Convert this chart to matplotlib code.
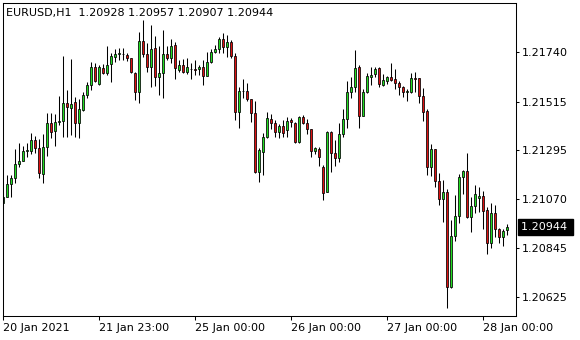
import numpy as np
import matplotlib
matplotlib.use("Agg")
import matplotlib.pyplot as plt

symbol = "EURUSD,H1"

# hourly bars (oldest first)
opens = [1.21053, 1.21081, 1.21138, 1.21165, 1.21229, 1.21245, 1.21290, 1.21290, 1.21340, 1.21303,
         1.21185, 1.21309, 1.21416, 1.21382, 1.21421, 1.21427, 1.21507, 1.21487, 1.21512, 1.21416,
         1.21477, 1.21544, 1.21590, 1.21674, 1.21595, 1.21667, 1.21647, 1.21685, 1.21720, 1.21731,
         1.21733, 1.21728, 1.21713, 1.21644, 1.21558, 1.21790, 1.21731, 1.21674, 1.21758, 1.21629,
         1.21647, 1.21732, 1.21713, 1.21773, 1.21659, 1.21682, 1.21652, 1.21662, 1.21662, 1.21662,
         1.21672, 1.21633, 1.21694, 1.21743, 1.21754, 1.21799, 1.21763, 1.21786, 1.21723, 1.21469,
         1.21564, 1.21564, 1.21526, 1.21462, 1.21195, 1.21287, 1.21355, 1.21436, 1.21419, 1.21378,
         1.21405, 1.21386, 1.21431, 1.21419, 1.21332, 1.21444, 1.21416, 1.21389, 1.21291, 1.21299,
         1.21218, 1.21104, 1.21375, 1.21279, 1.21256, 1.21366, 1.21434, 1.21560, 1.21580, 1.21672,
         1.21451, 1.21560, 1.21629, 1.21640, 1.21667, 1.21591, 1.21610, 1.21626, 1.21617, 1.21601,
         1.21580, 1.21560, 1.21560, 1.21621, 1.21621, 1.21542, 1.21472, 1.21215, 1.21299, 1.21154,
         1.21069, 1.21101, 1.20671, 1.20902, 1.20993, 1.21170, 1.21199, 1.20990, 1.21040, 1.21077,
         1.21084, 1.21021, 1.20869, 1.21006, 1.20933, 1.20899, 1.20928]
highs = [1.21098, 1.21180, 1.21180, 1.21299, 1.21326, 1.21313, 1.21326, 1.21370, 1.21358, 1.21345,
         1.21367, 1.21462, 1.21463, 1.21459, 1.21541, 1.21723, 1.21568, 1.21708, 1.21535, 1.21526,
         1.21560, 1.21606, 1.21694, 1.21693, 1.21682, 1.21685, 1.21769, 1.21738, 1.21754, 1.21758,
         1.21758, 1.21738, 1.21713, 1.21652, 1.21834, 1.21887, 1.21784, 1.21865, 1.21814, 1.21769,
         1.21842, 1.21769, 1.21799, 1.21788, 1.21705, 1.21708, 1.21713, 1.21690, 1.21705, 1.21682,
         1.21705, 1.21743, 1.21754, 1.21773, 1.21808, 1.21829, 1.21819, 1.21796, 1.21735, 1.21583,
         1.21617, 1.21599, 1.21527, 1.21518, 1.21302, 1.21370, 1.21469, 1.21459, 1.21431, 1.21413,
         1.21431, 1.21446, 1.21439, 1.21423, 1.21449, 1.21454, 1.21434, 1.21390, 1.21309, 1.21307,
         1.21226, 1.21382, 1.21382, 1.21340, 1.21416, 1.21480, 1.21609, 1.21629, 1.21751, 1.21682,
         1.21571, 1.21644, 1.21674, 1.21674, 1.21672, 1.21641, 1.21632, 1.21690, 1.21662, 1.21610,
         1.21586, 1.21571, 1.21644, 1.21652, 1.21624, 1.21576, 1.21480, 1.21322, 1.21299, 1.21188,
         1.21157, 1.21115, 1.20975, 1.21089, 1.21185, 1.21203, 1.21282, 1.21081, 1.21135, 1.21127,
         1.21107, 1.21036, 1.21054, 1.21043, 1.20940, 1.20933, 1.20957]
lows = [1.21025, 1.21080, 1.21080, 1.21144, 1.21218, 1.21244, 1.21262, 1.21276, 1.21281, 1.21168,
        1.21142, 1.21268, 1.21349, 1.21313, 1.21408, 1.21355, 1.21355, 1.21363, 1.21352, 1.21348,
        1.21472, 1.21530, 1.21568, 1.21606, 1.21591, 1.21641, 1.21636, 1.21606, 1.21697, 1.21705,
        1.21705, 1.21702, 1.21644, 1.21522, 1.21507, 1.21720, 1.21652, 1.21583, 1.21586, 1.21545,
        1.21530, 1.21705, 1.21690, 1.21617, 1.21649, 1.21647, 1.21641, 1.21617, 1.21636, 1.21636,
        1.21591, 1.21632, 1.21690, 1.21738, 1.21735, 1.21735, 1.21720, 1.21715, 1.21431, 1.21393,
        1.21530, 1.21519, 1.21423, 1.21188, 1.21150, 1.21180, 1.21350, 1.21389, 1.21355, 1.21350,
        1.21355, 1.21355, 1.21401, 1.21325, 1.21325, 1.21413, 1.21367, 1.21264, 1.21276, 1.21223,
        1.21066, 1.21101, 1.21195, 1.21223, 1.21241, 1.21352, 1.21396, 1.21530, 1.21560, 1.21393,
        1.21449, 1.21553, 1.21591, 1.21629, 1.21583, 1.21588, 1.21594, 1.21610, 1.21573, 1.21545,
        1.21538, 1.21519, 1.21553, 1.21560, 1.21507, 1.21428, 1.21180, 1.21177, 1.21127, 1.21043,
        1.20967, 1.20575, 1.20666, 1.20881, 1.20963, 1.21094, 1.20983, 1.20922, 1.21008, 1.21013,
        1.20934, 1.20819, 1.20849, 1.20896, 1.20869, 1.20858, 1.20907]
closes = [1.21078, 1.21138, 1.21165, 1.21230, 1.21244, 1.21290, 1.21292, 1.21340, 1.21301, 1.21188,
          1.21307, 1.21416, 1.21378, 1.21423, 1.21427, 1.21507, 1.21492, 1.21503, 1.21416, 1.21480,
          1.21545, 1.21591, 1.21674, 1.21610, 1.21672, 1.21647, 1.21682, 1.21723, 1.21732, 1.21735,
          1.21730, 1.21713, 1.21649, 1.21558, 1.21790, 1.21731, 1.21672, 1.21754, 1.21629, 1.21644,
          1.21732, 1.21713, 1.21769, 1.21667, 1.21682, 1.21652, 1.21672, 1.21664, 1.21661, 1.21672,
          1.21632, 1.21694, 1.21740, 1.21754, 1.21799, 1.21763, 1.21786, 1.21725, 1.21469, 1.21564,
          1.21562, 1.21526, 1.21462, 1.21195, 1.21294, 1.21355, 1.21439, 1.21419, 1.21375, 1.21405,
          1.21370, 1.21427, 1.21421, 1.21332, 1.21446, 1.21416, 1.21389, 1.21291, 1.21303, 1.21261,
          1.21100, 1.21375, 1.21279, 1.21256, 1.21366, 1.21434, 1.21558, 1.21583, 1.21667, 1.21451,
          1.21560, 1.21632, 1.21636, 1.21662, 1.21594, 1.21614, 1.21626, 1.21614, 1.21599, 1.21583,
          1.21558, 1.21561, 1.21621, 1.21620, 1.21542, 1.21469, 1.21215, 1.21299, 1.21154, 1.21069,
          1.21101, 1.20671, 1.20902, 1.20993, 1.21173, 1.21199, 1.20987, 1.21039, 1.21094, 1.21086,
          1.21017, 1.20871, 1.21006, 1.20933, 1.20899, 1.20926, 1.20944]

price_ticks = [1.20625, 1.20845, 1.21070, 1.21295, 1.21515, 1.21740]
date_ticks = [0, 24, 48, 72, 96, 120]  # bar index of each date label
date_labels = ["20 Jan 2021", "21 Jan 23:00", "25 Jan 00:00",
               "26 Jan 00:00", "27 Jan 00:00", "28 Jan 00:00"]

bull_color = "#22dd22"
bear_color = "#dd1111"

plt.rcParams["font.family"] = "DejaVu Sans"

fig = plt.figure(figsize=(5.8, 3.4), dpi=100)
ax = fig.add_axes([2.7 / 580, 24 / 340, 513.3 / 580, 313.3 / 340])

o = np.array(opens)
h = np.array(highs)
l = np.array(lows)
c = np.array(closes)
x = np.arange(len(o))
up = c >= o

# wicks then bodies
ax.vlines(x, l, h, color="black", linewidth=0.75, zorder=1)
ax.bar(x, np.abs(c - o), width=0.6, bottom=np.minimum(o, c),
       color=np.where(up, bull_color, bear_color), edgecolor="black",
       linewidth=0.55, zorder=2)

ax.set_xlim(-0.15, 128.2)
ax.set_ylim(1.20537, 1.21966)

ax.yaxis.tick_right()
ax.set_yticks(price_ticks)
ax.set_yticklabels([f"{p:.5f}" for p in price_ticks])
ax.tick_params(axis="y", direction="out", length=2.5, width=0.75, pad=1.5, labelsize=8)

ax.set_xticks(date_ticks)
ax.set_xticklabels(date_labels, ha="left")
ax.tick_params(axis="x", direction="out", length=3, width=0.75, pad=2, labelsize=8)

for s in ax.spines.values():
    s.set_linewidth(0.75)
    s.set_color("black")

# header with the last bar's OHLC
ax.text(0.0064, 0.967, f"{symbol}  {opens[-1]:.5f} {highs[-1]:.5f} {lows[-1]:.5f} {closes[-1]:.5f}",
        transform=ax.transAxes, fontsize=8, va="center", ha="left", color="black")

# current price marker on the scale
ax.text(1.009, closes[-1], f"{closes[-1]:.5f} ", transform=ax.get_yaxis_transform(),
        fontsize=8, color="white", va="center", ha="left",
        bbox=dict(boxstyle="square,pad=0.25", fc="black", ec="black"))

fig.savefig("out.png", dpi=100)
